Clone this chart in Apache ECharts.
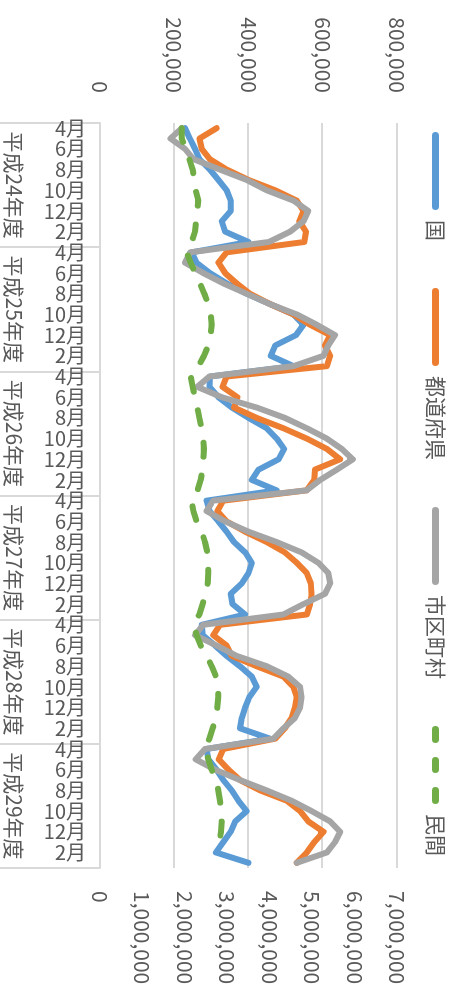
<!DOCTYPE html>
<html>
<head>
<meta charset="utf-8">
<script src="https://cdn.jsdelivr.net/npm/echarts@6/dist/echarts.min.js"></script>
<style>
html, body { margin: 0; padding: 0; width: 465px; height: 993px; overflow: hidden; background: #fff; }
/* chart is drawn landscape, then turned a quarter turn clockwise */
#chart { position: absolute; left: 0; top: 0; width: 993px; height: 465px;
  transform-origin: 0 0; transform: translateX(465px) rotate(90deg); }
</style>
</head>
<body>
<div id="chart"></div>
<script>
var years = ['平成24年度', '平成25年度', '平成26年度', '平成27年度', '平成28年度', '平成29年度'];
var months = ['4月', '5月', '6月', '7月', '8月', '9月', '10月', '11月', '12月', '1月', '2月', '3月'];
var seriesNames = ['国', '都道府県', '市区町村', '民間'];
var colors = ['#5B9BD5', '#ED7D31', '#A5A5A5', '#70AD47'];

// 国
var kuni = [
  229000, 242000, 256000, 268000, 296000, 319000, 341000, 352000, 352000, 328000, 337000, 400000,
  247000, 260000, 296000, 341000, 395000, 458000, 521000, 548000, 528000, 472000, 460000, 521000,
  296000, 295000, 319000, 355000, 400000, 449000, 476000, 496000, 481000, 427000, 409000, 476000,
  287000, 295000, 319000, 341000, 361000, 391000, 409000, 400000, 382000, 352000, 357000, 391000,
  274000, 277000, 310000, 341000, 377000, 409000, 422000, 402000, 391000, 382000, 377000, 458000,
  287000, 292000, 314000, 332000, 355000, 373000, 395000, 364000, 352000, 332000, 312000, 400000
];
// 都道府県
var todofuken = [
  314000, 268000, 274000, 296000, 341000, 400000, 472000, 530000, 548000, 537000, 555000, 550000,
  341000, 319000, 337000, 368000, 404000, 458000, 521000, 566000, 620000, 606000, 620000, 611000,
  341000, 330000, 370000, 361000, 422000, 494000, 557000, 611000, 647000, 579000, 577000, 557000,
  332000, 316000, 341000, 391000, 449000, 498000, 530000, 557000, 568000, 570000, 566000, 557000,
  323000, 305000, 341000, 355000, 422000, 494000, 521000, 530000, 525000, 516000, 498000, 472000,
  332000, 320000, 346000, 377000, 431000, 503000, 539000, 561000, 602000, 577000, 557000, 530000
];
// 市区町村
var shikuchoson = [
  220000, 190000, 229000, 252000, 323000, 395000, 449000, 521000, 561000, 548000, 512000, 455000,
  243000, 229000, 278000, 332000, 395000, 458000, 530000, 584000, 633000, 615000, 602000, 521000,
  295000, 262000, 328000, 422000, 498000, 557000, 611000, 651000, 681000, 638000, 593000, 557000,
  305000, 287000, 337000, 400000, 476000, 543000, 588000, 615000, 620000, 606000, 548000, 494000,
  278000, 256000, 314000, 368000, 449000, 507000, 539000, 543000, 539000, 525000, 494000, 467000,
  283000, 258000, 310000, 377000, 449000, 516000, 570000, 620000, 647000, 633000, 611000, 530000
];
// 民間 (第2軸)
var minkan = [
  1925000, 1925000, 2027000, 2105000, 2184000, 2223000, 2255000, 2318000, 2294000, 2263000, 2239000, 2160000,
  2043000, 2137000, 2239000, 2357000, 2459000, 2553000, 2608000, 2632000, 2608000, 2553000, 2451000, 2318000,
  2137000, 2184000, 2239000, 2294000, 2341000, 2396000, 2436000, 2451000, 2436000, 2420000, 2373000, 2300000,
  2160000, 2200000, 2278000, 2396000, 2475000, 2530000, 2553000, 2553000, 2537000, 2490000, 2420000, 2341000,
  2200000, 2278000, 2373000, 2514000, 2632000, 2734000, 2789000, 2789000, 2765000, 2734000, 2655000, 2577000,
  2480000, 2553000, 2632000, 2734000, 2789000, 2828000, 2852000, 2868000, 2852000, 2813000, 2750000, null
];

var FONT = "'Noto Sans CJK JP', sans-serif";
var TEXT = '#595959';
var GRID = '#d9d9d9';

// 凡例のアイコン（太線と破線）
var solidIcon = 'path://M3.5,0H74.5A3.5,3.5,0,0,1,74.5,7H3.5A3.5,3.5,0,0,1,3.5,0Z';
var dashIcon = 'path://M3.5,0H13.5A3.5,3.5,0,0,1,13.5,7H3.5A3.5,3.5,0,0,1,3.5,0Z' +
  'M34.5,0H43.5A3.5,3.5,0,0,1,43.5,7H34.5A3.5,3.5,0,0,1,34.5,0Z' +
  'M64.5,0H74.5A3.5,3.5,0,0,1,74.5,7H64.5A3.5,3.5,0,0,1,64.5,0Z';

// year|month の組でカテゴリを作る
var cats = [];
years.forEach(function (y) {
  months.forEach(function (m) { cats.push(y + '|' + m); });
});

function fmt(v) { return Number(v).toLocaleString('en-US'); }

function lineSeries(i, data, axis) {
  var s = {
    name: seriesNames[i],
    type: 'line',
    data: data,
    xAxisIndex: 0,
    yAxisIndex: axis,
    symbol: 'none',
    showSymbol: false,
    itemStyle: { color: colors[i] },
    lineStyle: { color: colors[i], width: 6, cap: 'round', join: 'round' }
  };
  if (i === 3) s.lineStyle.type = [14, 19];
  return s;
}

var myChart = echarts.init(document.getElementById('chart'));
myChart.setOption({
  animation: false,
  textStyle: { fontFamily: FONT },
  legend: {
    data: seriesNames.map(function (n, i) {
      return { name: n, icon: i === 3 ? dashIcon : solidIcon };
    }),
    left: 127,
    top: 14,
    itemWidth: 78,
    itemHeight: 7,
    itemGap: 47,
    itemStyle: { borderWidth: 0 },
    textStyle: { fontSize: 21, color: TEXT, fontFamily: FONT, padding: [0, 0, 0, 5] }
  },
  grid: { left: 123, right: 125, top: 68, bottom: 100 },
  xAxis: [
    {
      type: 'category',
      position: 'bottom',
      data: cats,
      boundaryGap: true,
      axisLine: { lineStyle: { color: GRID, width: 2 } },
      axisTick: { show: false },
      axisLabel: {
        interval: 1, rotate: 90, margin: 14, fontSize: 20, color: TEXT, fontFamily: FONT,
        formatter: function (v) { return v.split('|')[1]; }
      }
    },
    {
      type: 'category',
      position: 'bottom',
      data: years,
      boundaryGap: true,
      axisLine: { show: false },
      axisTick: { show: true, interval: 0, length: 100, lineStyle: { color: GRID, width: 2 } },
      axisLabel: { interval: 0, margin: 76, fontSize: 21, color: TEXT, fontFamily: FONT }
    }
  ],
  yAxis: [
    {
      type: 'value', position: 'left', min: 0, max: 800000, interval: 200000,
      axisLine: { show: false }, axisTick: { show: false },
      splitLine: { lineStyle: { color: GRID, width: 2 } },
      axisLabel: { margin: 30, fontSize: 21, color: TEXT, fontFamily: FONT, formatter: fmt }
    },
    {
      type: 'value', position: 'right', min: 0, max: 7000000, interval: 1000000,
      axisLine: { show: false }, axisTick: { show: false }, splitLine: { show: false },
      axisLabel: { margin: 23, fontSize: 21, color: TEXT, fontFamily: FONT, formatter: fmt }
    }
  ],
  series: [
    lineSeries(0, kuni, 0),
    lineSeries(1, todofuken, 0),
    lineSeries(2, shikuchoson, 0),
    lineSeries(3, minkan, 1)
  ]
});
</script>
</body>
</html>
